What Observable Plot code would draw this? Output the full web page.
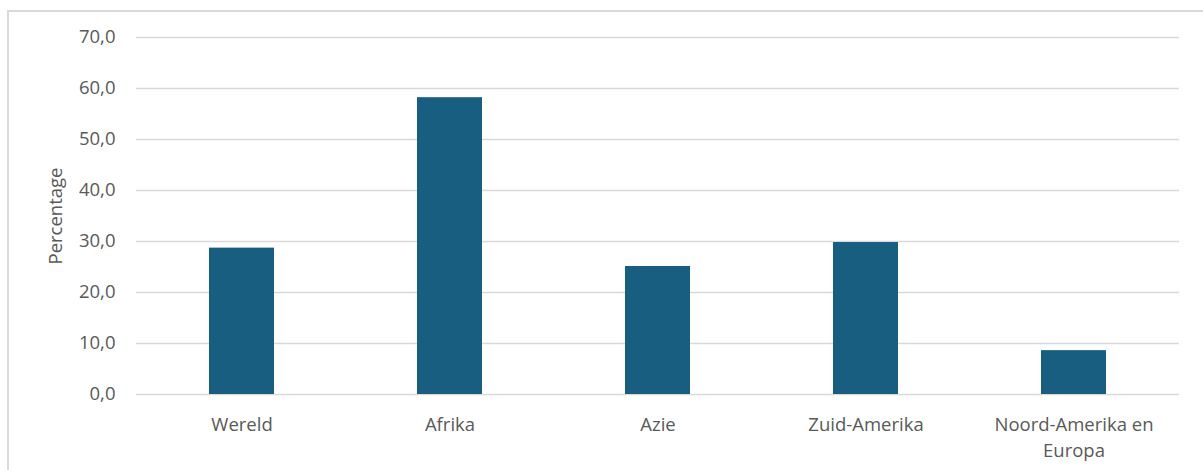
<!DOCTYPE html>
<html>
<head>
<meta charset="utf-8">
<script src="https://cdn.jsdelivr.net/npm/d3@7"></script>
<script src="https://cdn.jsdelivr.net/npm/@observablehq/plot@0.6"></script>
<style>
  html, body { margin: 0; padding: 0; background: #fff; overflow: hidden; }
  #wrap { position: relative; width: 1203px; height: 470px; }
  #frame { position: absolute; left: 7px; top: 10px; width: 1300px; height: 600px;
           border: 2px solid #d9d9d9; box-sizing: border-box; pointer-events: none; }
  #chart { position: absolute; left: 0; top: 0; }
</style>
</head>
<body>
<div id="wrap"><div id="chart"></div><div id="frame"></div></div>
<script>
const categories = ["Wereld", "Afrika", "Azie", "Zuid-Amerika", "Noord-Amerika en Europa"];
const values = [28.7, 58.2, 25.1, 29.8, 8.6];
const yTicks = [0, 10, 20, 30, 40, 50, 60, 70];
const xLabels = {"Noord-Amerika en Europa": "Noord-Amerika en\nEuropa"};

const data = categories.map((c, i) => ({category: c, value: values[i]}));
const fmt = d3.formatLocale({decimal: ",", thousands: "."}).format(".1f");

const chart = Plot.plot({
  width: 1203,
  height: 470,
  marginLeft: 136,
  marginRight: 24,
  marginTop: 37,
  marginBottom: 76,
  style: {background: "transparent", fontFamily: "'Open Sans', sans-serif", fontSize: "18.5px", color: "#595959"},
  x: {domain: categories, paddingInner: 0.688, paddingOuter: 0.344, align: 0.5},
  y: {domain: [0, 70]},
  marks: [
    Plot.gridY(yTicks, {stroke: "#d9d9d9", strokeOpacity: 1, strokeWidth: 1.6}),
    Plot.barY(data, {x: "category", y: "value", fill: "#175e80"}),
    Plot.axisY({ticks: yTicks, tickSize: 0, tickPadding: 21, tickFormat: fmt, fill: "#595959", fontSize: 18.5,
                label: "Percentage", labelAnchor: "center", labelArrow: "none", labelOffset: 88}),
    Plot.axisX({tickSize: 0, tickPadding: 17, lineHeight: 1.45, fill: "#595959", fontSize: 18.5,
                tickFormat: d => xLabels[d] ?? d, label: null})
  ]
});
document.getElementById("chart").append(chart);
</script>
</body>
</html>
